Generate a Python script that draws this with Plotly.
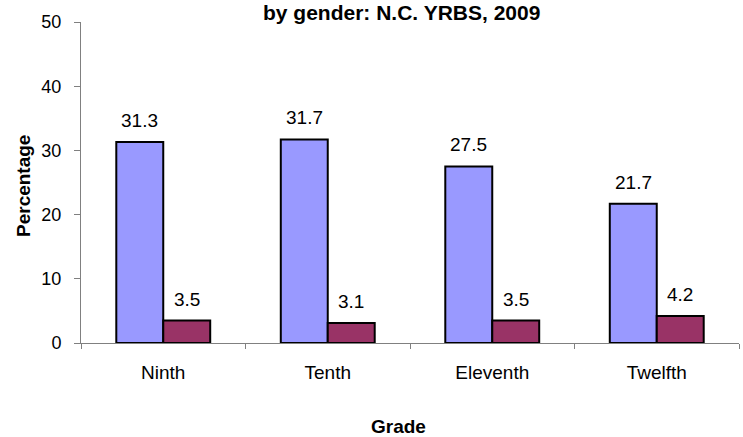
import plotly.graph_objects as go

grades = ["Ninth", "Tenth", "Eleventh", "Twelfth"]
series_a = [31.3, 31.7, 27.5, 21.7]
series_b = [3.5, 3.1, 3.5, 4.2]
y_ticks = [0, 10, 20, 30, 40, 50]
title_text = "by gender: N.C. YRBS, 2009"

FONT = "Liberation Sans, Arial, sans-serif"

fig = go.Figure()
fig.add_trace(go.Bar(x=grades, y=series_a, name="A",
                     marker=dict(color="#9999FF", line=dict(color="black", width=2))))
fig.add_trace(go.Bar(x=grades, y=series_b, name="B",
                     marker=dict(color="#993366", line=dict(color="black", width=2))))

annotations = []
for vals, off in ((series_a, -0.1435), (series_b, 0.1435)):
    for i, v in enumerate(vals):
        annotations.append(dict(
            x=i + off, y=v, xref="x", yref="y", text=f"{v:.1f}",
            showarrow=False, yanchor="bottom", xanchor="center", yshift=9,
            font=dict(family=FONT, size=19, color="black")))

annotations.append(dict(x=0, y=0.5, xref="paper", yref="paper", text="<b>Percentage</b>",
                        textangle=-90, showarrow=False, xanchor="center", yanchor="middle",
                        xshift=-57.5, yshift=-4,
                        font=dict(family=FONT, size=19, color="black")))
annotations.append(dict(x=0.482, y=0, xref="paper", yref="paper", text="<b>Grade</b>",
                        showarrow=False, xanchor="center", yanchor="middle", yshift=-83,
                        font=dict(family=FONT, size=19, color="black")))
annotations.append(dict(x=(401 - 80.5) / 658.5, y=1, xref="paper", yref="paper",
                        text="<b>" + title_text + "</b>", showarrow=False,
                        xanchor="center", yanchor="middle", yshift=10,
                        font=dict(family=FONT, size=21, color="black")))

fig.update_layout(
    width=743, height=437,
    margin=dict(l=80.5, r=4, t=22, b=93.5, pad=0),
    paper_bgcolor="white", plot_bgcolor="white",
    showlegend=False,
    barmode="group", bargap=0.429, bargroupgap=0,
    annotations=annotations,
    font=dict(family=FONT, color="black"),
)
fig.update_xaxes(
    type="category", showline=True, linecolor="#808080", linewidth=1,
    ticks="outside", tickson="boundaries", ticklen=5, tickcolor="#808080",
    tickfont=dict(family=FONT, size=19, color="black"),
    ticklabelstandoff=12, showgrid=False, zeroline=False, automargin=False,
)
fig.update_yaxes(
    range=[0, 50], tickvals=y_ticks, showline=True, linecolor="#808080", linewidth=1,
    ticks="outside", ticklen=6, tickcolor="#808080",
    tickfont=dict(family=FONT, size=18, color="black"),
    ticklabelstandoff=9, showgrid=False, zeroline=False, automargin=False,
)

fig.write_html("out.html", config={"displayModeBar": False},
               post_script="document.body.style.margin='0';")
